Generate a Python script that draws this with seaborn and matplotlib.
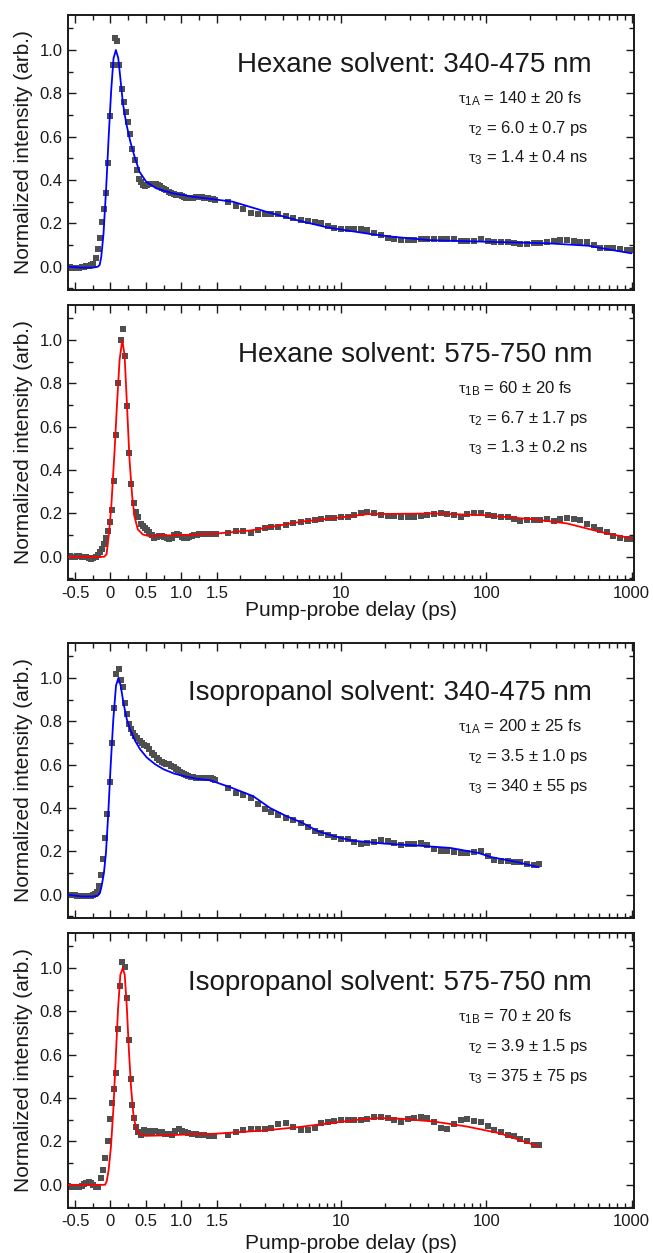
import numpy as np
import matplotlib
matplotlib.use("Agg")
import matplotlib.pyplot as plt
import seaborn as sns
from matplotlib.ticker import FixedLocator, FixedFormatter

sns.set_style("ticks")
plt.rcParams["font.family"] = ["Liberation Sans", "DejaVu Sans"]
plt.rcParams["mathtext.fontset"] = "custom"
plt.rcParams["mathtext.rm"] = "Liberation Sans"
plt.rcParams["mathtext.it"] = "Liberation Serif"

# ---------------- data ----------------
hex_uv_lin_x = [-0.60, -0.57, -0.54, -0.50, -0.47, -0.44, -0.40, -0.37, -0.34, -0.30,
                -0.27, -0.24, -0.21, -0.18, -0.15, -0.12, -0.09, -0.06, -0.03, 0.00,
                0.03, 0.06, 0.09, 0.12, 0.16, 0.19, 0.22, 0.25, 0.28, 0.31,
                0.34, 0.37, 0.40, 0.43, 0.46, 0.49, 0.52, 0.55, 0.58, 0.61,
                0.64, 0.67, 0.70, 0.73, 0.76, 0.79, 0.82, 0.86, 0.89, 0.92,
                0.95, 0.98, 1.01, 1.04, 1.07, 1.10, 1.13, 1.16, 1.20, 1.23,
                1.26, 1.29, 1.32, 1.35, 1.38, 1.42, 1.45, 1.48]
hex_uv_lin_y = [0.000, -0.003, -0.005, -0.006, -0.006, -0.005, -0.003, 0.000, 0.003, 0.005,
                0.008, 0.015, 0.040, 0.080, 0.134, 0.208, 0.265, 0.341, 0.477, 0.695,
                0.931, 1.054, 1.042, 0.931, 0.822, 0.760, 0.715, 0.668, 0.614, 0.545,
                0.492, 0.446, 0.407, 0.390, 0.378, 0.372, 0.375, 0.380, 0.383, 0.384,
                0.382, 0.378, 0.372, 0.365, 0.358, 0.352, 0.346, 0.340, 0.336, 0.333,
                0.330, 0.330, 0.327, 0.323, 0.318, 0.316, 0.316, 0.318, 0.320, 0.321,
                0.321, 0.320, 0.318, 0.317, 0.315, 0.314, 0.312, 0.310]

hex_vis_lin_x = [-0.60, -0.57, -0.54, -0.50, -0.47, -0.44, -0.40, -0.37, -0.34, -0.30,
                 -0.27, -0.24, -0.21, -0.177, -0.15, -0.12, -0.09, -0.067, -0.04, -0.012,
                 0.016, 0.049, 0.082, 0.11, 0.143, 0.176, 0.204, 0.232, 0.265, 0.293,
                 0.326, 0.359, 0.392, 0.433, 0.46, 0.494, 0.52, 0.55, 0.585, 0.621,
                 0.655, 0.69, 0.725, 0.76, 0.795, 0.832, 0.868, 0.903, 0.938, 0.973,
                 1.01, 1.044, 1.08, 1.114, 1.15, 1.18, 1.215, 1.25, 1.285, 1.32,
                 1.355, 1.39, 1.425, 1.46, 1.49]
hex_vis_lin_y = [0.002, 0.002, 0.000, 0.000, 0.002, 0.002, 0.000, 0.000, -0.002, -0.005,
                 -0.008, -0.006, -0.002, 0.008, 0.023, 0.038, 0.060, 0.088, 0.120, 0.160,
                 0.215, 0.350, 0.560, 0.800, 1.000, 1.050, 0.925, 0.697, 0.480, 0.334,
                 0.250, 0.208, 0.185, 0.151, 0.142, 0.134, 0.125, 0.115, 0.100, 0.089,
                 0.092, 0.095, 0.097, 0.093, 0.086, 0.080, 0.088, 0.100, 0.103, 0.100,
                 0.090, 0.085, 0.089, 0.093, 0.098, 0.100, 0.101, 0.103, 0.103, 0.104,
                 0.104, 0.105, 0.105, 0.106, 0.106]

iso_uv_lin_x = [-0.60, -0.57, -0.54, -0.50, -0.47, -0.44, -0.40, -0.37, -0.34, -0.30,
                -0.27, -0.24, -0.22, -0.196, -0.163, -0.135, -0.102, -0.073, -0.045, -0.012,
                0.017, 0.05, 0.083, 0.115, 0.145, 0.176, 0.206, 0.238, 0.265, 0.29,
                0.32, 0.35, 0.38, 0.41, 0.44, 0.475, 0.51, 0.545, 0.58, 0.615,
                0.65, 0.69, 0.725, 0.76, 0.79, 0.82, 0.86, 0.89, 0.92, 0.95,
                0.98, 1.01, 1.04, 1.07, 1.10, 1.13, 1.16, 1.20, 1.23, 1.26,
                1.29, 1.32, 1.35, 1.38, 1.42, 1.45, 1.48]
iso_uv_lin_y = [0.000, 0.000, 0.000, -0.002, -0.004, -0.006, -0.008, -0.008, -0.008, -0.006,
                -0.004, 0.000, 0.004, 0.015, 0.039, 0.093, 0.165, 0.262, 0.373, 0.522,
                0.698, 0.860, 1.020, 1.042, 0.990, 0.957, 0.887, 0.833, 0.787, 0.767,
                0.748, 0.733, 0.721, 0.710, 0.700, 0.693, 0.687, 0.671, 0.656, 0.644,
                0.633, 0.622, 0.613, 0.608, 0.605, 0.602, 0.596, 0.589, 0.582, 0.574,
                0.567, 0.563, 0.558, 0.553, 0.548, 0.545, 0.542, 0.540, 0.538, 0.537,
                0.537, 0.538, 0.539, 0.540, 0.537, 0.533, 0.529]

iso_vis_lin_x = [-0.60, -0.57, -0.54, -0.50, -0.47, -0.44, -0.40, -0.37, -0.34, -0.30,
                 -0.27, -0.24, -0.21, -0.17, -0.134, -0.102, -0.073, -0.04, -0.007, 0.021,
                 0.047, 0.073, 0.102, 0.135, 0.168, 0.206, 0.23, 0.262, 0.286, 0.309,
                 0.338, 0.362, 0.395, 0.433, 0.475, 0.513, 0.55, 0.589, 0.631, 0.678,
                 0.726, 0.773, 0.82, 0.868, 0.915, 0.962, 1.01, 1.057, 1.10, 1.15,
                 1.20, 1.24, 1.32, 1.39, 1.46]
iso_vis_lin_y = [-0.005, -0.010, -0.010, -0.010, -0.009, -0.008, -0.004, 0.002, 0.008, 0.015,
                 0.008, 0.000, -0.008, -0.010, 0.031, 0.069, 0.126, 0.200, 0.303, 0.377,
                 0.440, 0.515, 0.718, 0.918, 1.026, 1.005, 0.862, 0.666, 0.488, 0.369,
                 0.308, 0.269, 0.246, 0.231, 0.254, 0.246, 0.249, 0.242, 0.249, 0.246,
                 0.242, 0.236, 0.236, 0.231, 0.249, 0.257, 0.249, 0.243, 0.238, 0.236,
                 0.234, 0.231, 0.228, 0.226, 0.223]

hex_log_x = [1.67, 1.9, 2.1, 2.4, 2.7, 3.0, 3.3, 3.7, 4.2, 4.7,
             5.3, 5.9, 6.6, 7.3, 8.1, 9.0, 10, 11.1, 12.3, 13.7,
             15.2, 16.9, 18.8, 20.9, 23.2, 25.8, 28.7, 31.9, 35.4, 39.3,
             43.7, 48.6, 54, 60, 66.7, 74, 82.3, 91.5, 102, 113,
             126, 140, 155, 172, 191, 212, 236, 262, 291, 324,
             360, 400, 444, 493, 548, 609, 676, 751, 835, 927, 1000]
hex_uv_log_y = [0.300, 0.280, 0.265, 0.248, 0.243, 0.245, 0.245, 0.242, 0.232, 0.225,
                0.218, 0.213, 0.207, 0.200, 0.190, 0.180, 0.176, 0.172, 0.172, 0.175,
                0.170, 0.156, 0.148, 0.134, 0.128, 0.125, 0.125, 0.125, 0.127, 0.128,
                0.130, 0.130, 0.128, 0.126, 0.120, 0.118, 0.120, 0.128, 0.118, 0.115,
                0.115, 0.113, 0.108, 0.107, 0.107, 0.108, 0.110, 0.112, 0.120, 0.124,
                0.122, 0.117, 0.115, 0.113, 0.102, 0.088, 0.086, 0.085, 0.080, 0.077, 0.075]
hex_vis_log_y = [0.110, 0.118, 0.118, 0.111, 0.122, 0.131, 0.136, 0.139, 0.146, 0.154,
                 0.162, 0.165, 0.169, 0.173, 0.177, 0.180, 0.182, 0.185, 0.192, 0.203,
                 0.208, 0.203, 0.192, 0.190, 0.188, 0.185, 0.182, 0.185, 0.188, 0.192,
                 0.197, 0.203, 0.197, 0.192, 0.185, 0.197, 0.200, 0.203, 0.192, 0.188,
                 0.185, 0.182, 0.173, 0.166, 0.169, 0.169, 0.169, 0.173, 0.166, 0.173,
                 0.177, 0.175, 0.169, 0.151, 0.139, 0.126, 0.115, 0.097, 0.085, 0.080, 0.080]

iso_log_x = [1.67, 1.9, 2.1, 2.4, 2.7, 3.0, 3.3, 3.7, 4.2, 4.7,
             5.3, 5.9, 6.6, 7.3, 8.1, 9.0, 10, 11.1, 12.3, 13.7,
             15.2, 16.9, 18.8, 20.9, 23.2, 25.8, 28.7, 31.9, 35.4, 39.3,
             43.7, 48.6, 54, 60, 66.7, 74, 82.3, 91.5, 102, 113,
             126, 140, 155, 172, 191, 212, 230]
iso_uv_log_y = [0.494, 0.470, 0.462, 0.448, 0.420, 0.397, 0.383, 0.366, 0.352, 0.347,
                0.332, 0.313, 0.295, 0.284, 0.275, 0.265, 0.258, 0.255, 0.242, 0.232,
                0.240, 0.245, 0.252, 0.247, 0.238, 0.230, 0.232, 0.232, 0.238, 0.230,
                0.212, 0.200, 0.200, 0.198, 0.194, 0.193, 0.198, 0.202, 0.178, 0.160,
                0.154, 0.154, 0.152, 0.150, 0.140, 0.139, 0.142]
iso_vis_log_y = [0.232, 0.244, 0.255, 0.256, 0.256, 0.257, 0.262, 0.280, 0.283, 0.266,
                 0.254, 0.254, 0.264, 0.283, 0.290, 0.296, 0.297, 0.297, 0.297, 0.300,
                 0.306, 0.314, 0.315, 0.308, 0.297, 0.292, 0.303, 0.308, 0.314, 0.308,
                 0.290, 0.262, 0.258, 0.280, 0.300, 0.303, 0.295, 0.288, 0.270, 0.255,
                 0.242, 0.230, 0.226, 0.210, 0.200, 0.182, 0.182]

hex_uv_fit_x = [-0.60, -0.40, -0.25, -0.18, -0.153, -0.13, -0.098, -0.06, -0.028, 0.01,
                0.043, 0.076, 0.11, 0.142, 0.175, 0.222, 0.28, 0.34, 0.41, 0.504,
                0.645, 0.88, 1.16, 1.44, 1.8, 3.05, 5.1, 8.0, 11.4, 15.6,
                21.4, 40, 104, 269, 506, 695, 1000]
hex_uv_fit_y = [0.0, -0.004, -0.004, 0.0, 0.008, 0.046, 0.154, 0.369, 0.585, 0.815,
                0.962, 1.0, 0.962, 0.862, 0.754, 0.662, 0.577, 0.508, 0.438, 0.392,
                0.362, 0.339, 0.323, 0.312, 0.300, 0.254, 0.213, 0.182, 0.166, 0.152,
                0.140, 0.123, 0.115, 0.108, 0.097, 0.080, 0.062]

hex_vis_fit_x = [-0.60, -0.09, -0.055, -0.022, 0.011, 0.058, 0.09, 0.128, 0.166, 0.199,
                 0.236, 0.269, 0.307, 0.339, 0.386, 0.457, 0.55, 0.69, 1.16, 1.49,
                 2.4, 5.3, 10, 15.2, 43.7, 96, 212, 360, 609, 1000]
hex_vis_fit_y = [0.0, 0.0, 0.012, 0.108, 0.231, 0.492, 0.692, 0.908, 1.0, 0.931,
                 0.677, 0.446, 0.277, 0.185, 0.126, 0.103, 0.095, 0.098, 0.102, 0.107,
                 0.122, 0.162, 0.182, 0.197, 0.200, 0.192, 0.173, 0.154, 0.115, 0.085]

iso_uv_fit_x = [-0.60, -0.40, -0.25, -0.18, -0.149, -0.126, -0.093, -0.064, -0.031, 0.002,
                0.04, 0.078, 0.111, 0.144, 0.182, 0.23, 0.277, 0.348, 0.419, 0.513,
                0.631, 0.749, 0.891, 1.03, 1.22, 1.41, 1.76, 2.48, 3.25, 4.2,
                5.4, 6.95, 9.0, 11.8, 19.9, 33.6, 56.6, 88, 108, 165, 230]
iso_uv_fit_y = [0.0, -0.008, -0.008, -0.004, 0.008, 0.039, 0.100, 0.193, 0.378, 0.594,
                0.810, 0.965, 1.0, 0.965, 0.887, 0.810, 0.764, 0.710, 0.671, 0.633,
                0.602, 0.579, 0.560, 0.548, 0.535, 0.528, 0.494, 0.455, 0.400, 0.363,
                0.332, 0.293, 0.270, 0.250, 0.236, 0.227, 0.216, 0.193, 0.174, 0.150, 0.127]

iso_vis_fit_x = [-0.60, -0.078, -0.054, -0.026, 0.007, 0.04, 0.073, 0.106, 0.139, 0.173,
                 0.201, 0.23, 0.262, 0.291, 0.324, 0.362, 0.409, 0.49, 0.75, 1.22,
                 1.49, 2.98, 5.04, 8.5, 13.7, 17.9, 25.8, 43.6, 73.5, 123.7, 230]
iso_vis_fit_y = [0.0, 0.0, 0.015, 0.069, 0.177, 0.346, 0.577, 0.808, 0.969, 1.0,
                 0.969, 0.823, 0.608, 0.446, 0.323, 0.257, 0.234, 0.226, 0.228, 0.234,
                 0.236, 0.251, 0.266, 0.285, 0.302, 0.308, 0.305, 0.292, 0.269, 0.238, 0.177]

titles = ["Hexane solvent: 340-475 nm", "Hexane solvent: 575-750 nm",
          "Isopropanol solvent: 340-475 nm", "Isopropanol solvent: 575-750 nm"]
tau_lines = [
    [r"$\tau_{\mathrm{1A}}$ = 140 ± 20 fs", r"$\tau_{\mathrm{2}}$ = 6.0 ± 0.7 ps", r"$\tau_{\mathrm{3}}$ = 1.4 ± 0.4 ns"],
    [r"$\tau_{\mathrm{1B}}$ = 60 ± 20 fs", r"$\tau_{\mathrm{2}}$ = 6.7 ± 1.7 ps", r"$\tau_{\mathrm{3}}$ = 1.3 ± 0.2 ns"],
    [r"$\tau_{\mathrm{1A}}$ = 200 ± 25 fs", r"$\tau_{\mathrm{2}}$ = 3.5 ± 1.0 ps", r"$\tau_{\mathrm{3}}$ = 340 ± 55 ps"],
    [r"$\tau_{\mathrm{1B}}$ = 70 ± 20 fs", r"$\tau_{\mathrm{2}}$ = 3.9 ± 1.5 ps", r"$\tau_{\mathrm{3}}$ = 375 ± 75 ps"],
]
x_major = [-0.5, 0, 0.5, 1.0, 1.5, 10, 100, 1000]
x_major_labels = ["-0.5", "0", "0.5", "1.0", "1.5", "10", "100", "1000"]
x_minor = [-0.25, 0.25, 0.75, 1.25, 2, 3, 4, 5, 6, 7, 8, 9,
           20, 30, 40, 50, 60, 70, 80, 90, 200, 300, 400, 500, 600, 700, 800, 900]
y_major = [0.0, 0.2, 0.4, 0.6, 0.8, 1.0]
y_major_labels = ["0.0", "0.2", "0.4", "0.6", "0.8", "1.0"]
y_minor = [-0.1, 0.1, 0.3, 0.5, 0.7, 0.9, 1.1]

panels = [
    (hex_uv_lin_x + hex_log_x, hex_uv_lin_y + hex_uv_log_y, hex_uv_fit_x, hex_uv_fit_y, "#0000ff"),
    (hex_vis_lin_x + hex_log_x, hex_vis_lin_y + hex_vis_log_y, hex_vis_fit_x, hex_vis_fit_y, "#ff0000"),
    (iso_uv_lin_x + iso_log_x, iso_uv_lin_y + iso_uv_log_y, iso_uv_fit_x, iso_uv_fit_y, "#0000ff"),
    (iso_vis_lin_x + iso_log_x, iso_vis_lin_y + iso_vis_log_y, iso_vis_fit_x, iso_vis_fit_y, "#ff0000"),
]

# ---------- piecewise linear / log axis ----------
BREAK = 1.65
DEC = 2.05


def fwd(x):
    x = np.asarray(x, dtype=float)
    return np.where(x <= BREAK, x, BREAK + DEC * np.log10(np.clip(x, BREAK, None) / BREAK))


def inv(t):
    t = np.asarray(t, dtype=float)
    return np.where(t <= BREAK, t, BREAK * 10 ** ((np.clip(t, BREAK, 30) - BREAK) / DEC))


fig = plt.figure(figsize=(6.53, 12.53), dpi=100)
bottoms = [0.7686, 0.5371, 0.2674, 0.0359]
xlabel_y = {1: -0.077, 3: -0.093}
INK = "#1a1a1a"

for i, (dx, dy, fx, fy, col) in enumerate(panels):
    ax = fig.add_axes([0.1041, bottoms[i], 0.8668, 0.2195])
    sns.scatterplot(x=dx, y=dy, marker="s", s=17, color="#4f4f4f",
                    linewidth=0, ax=ax, zorder=2)
    sns.lineplot(x=fx, y=fy, color=col, linewidth=1.3, estimator=None,
                 sort=False, ax=ax, zorder=3)
    ax.set_xscale("function", functions=(fwd, inv))
    ax.set_xlim(-0.6, 1040)
    ax.set_ylim(-0.107, 1.162)

    ax.xaxis.set_major_locator(FixedLocator(x_major))
    ax.xaxis.set_major_formatter(FixedFormatter(x_major_labels))
    ax.xaxis.set_minor_locator(FixedLocator(x_minor))
    ax.yaxis.set_major_locator(FixedLocator(y_major))
    ax.yaxis.set_major_formatter(FixedFormatter(y_major_labels))
    ax.yaxis.set_minor_locator(FixedLocator(y_minor))
    ax.tick_params(which="both", direction="in", top=True, right=True,
                   width=1.0, color=INK, labelsize=12, labelcolor=INK, pad=4)
    ax.tick_params(which="major", length=6)
    ax.tick_params(which="minor", length=3.5)
    for sp in ax.spines.values():
        sp.set_linewidth(1.4)
        sp.set_color(INK)

    ax.set_ylabel("Normalized intensity (arb.)", fontsize=15, color=INK)
    ax.yaxis.set_label_coords(-0.062, 0.5)
    if i in (1, 3):
        ax.set_xlabel("Pump-probe delay (ps)", fontsize=15, color=INK)
        ax.xaxis.set_label_coords(0.5, xlabel_y[i])
    else:
        ax.set_xlabel("")
        ax.tick_params(labelbottom=False)

    ax.text(0.926, 0.793, titles[i], transform=ax.transAxes, ha="right",
            va="baseline", fontsize=20, color=INK)
    first_x = 0.908 if i in (0, 2) else 0.892
    tx = [first_x, 0.919, 0.919]
    ty = [0.676, 0.570, 0.462]
    for j, line in enumerate(tau_lines[i]):
        ax.text(tx[j], ty[j], line, transform=ax.transAxes, ha="right",
                va="baseline", fontsize=12, color=INK)

fig.savefig("out.png", dpi=100)
